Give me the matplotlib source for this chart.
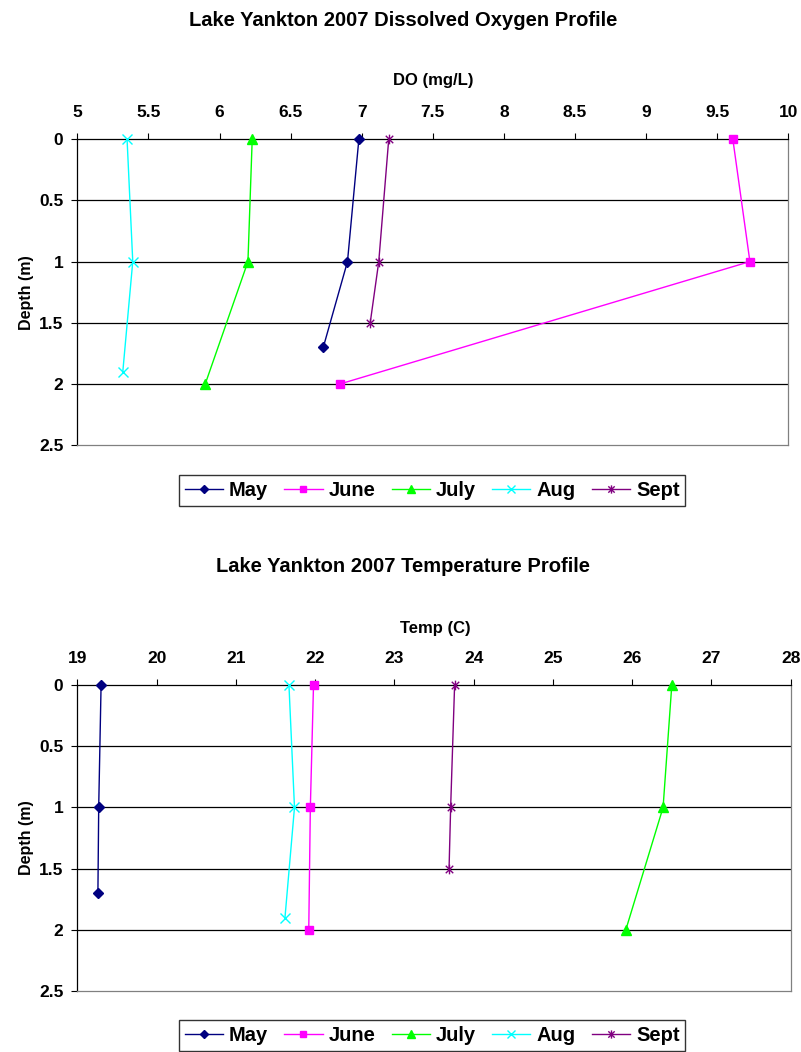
import numpy as np
import matplotlib.pyplot as plt
from matplotlib.path import Path
from matplotlib.ticker import FuncFormatter

plt.rcParams['font.family'] = ['Liberation Sans', 'DejaVu Sans']
plt.rcParams['font.weight'] = 'bold'

W, H = 801, 1052

months = ["May", "June", "July", "Aug", "Sept"]
colors = ["#000080", "#FF00FF", "#00FF00", "#00FFFF", "#800080"]

# sampling depths (m) for each month
may_depth = [0, 1, 1.7]
june_depth = [0, 1, 2]
july_depth = [0, 1, 2]
aug_depth = [0, 1, 1.9]
sept_depth = [0, 1, 1.5]

# dissolved oxygen (mg/L)
may_do = [6.98, 6.90, 6.73]
june_do = [9.61, 9.73, 6.85]
july_do = [6.23, 6.20, 5.90]
aug_do = [5.35, 5.39, 5.32]
sept_do = [7.19, 7.12, 7.06]

# temperature (C)
may_temp = [19.30, 19.27, 19.26]
june_temp = [21.98, 21.94, 21.92]
july_temp = [26.50, 26.39, 25.92]
aug_temp = [21.67, 21.74, 21.62]
sept_temp = [23.76, 23.71, 23.69]

depths = [may_depth, june_depth, july_depth, aug_depth, sept_depth]

# excel style star: an x with a vertical bar through it
star = Path([(-1, -1), (1, 1), (-1, 1), (1, -1), (0, -1.3), (0, 1.3)],
            [Path.MOVETO, Path.LINETO, Path.MOVETO, Path.LINETO, Path.MOVETO, Path.LINETO])
markers = [("D", 5), ("s", 5.5), ("^", 6.5), ("x", 6.5), (star, 7)]


def px(x, y):
    return x / W, 1 - y / H


def draw_profile(rect, values, xlim, xticks, title, xlabel, title_y, xlabel_y, xlabel_x, legend_y):
    left, top, right, bottom = rect
    ax = fig.add_axes([left / W, 1 - bottom / H, (right - left) / W, (bottom - top) / H])

    for vals, dep, col, (mk, ms), name in zip(values, depths, colors, markers, months):
        ax.plot(vals, dep, color=col, marker=mk, markersize=ms, markerfacecolor=col,
                markeredgecolor=col, markeredgewidth=1.0, linewidth=1.0, label=name,
                clip_on=False, zorder=3)

    ax.set_xlim(*xlim)
    ax.set_ylim(2.5, 0)
    ax.set_xticks(xticks)
    ax.set_yticks(np.arange(0, 2.51, 0.5))
    ax.xaxis.set_major_formatter(FuncFormatter(lambda v, p: "%g" % v))
    ax.yaxis.set_major_formatter(FuncFormatter(lambda v, p: "%g" % v))
    ax.xaxis.tick_top()
    ax.tick_params(axis="both", direction="out", length=4, width=0.8, labelsize=12.5, color="black")
    ax.tick_params(axis="x", pad=10)
    ax.tick_params(axis="y", pad=6)

    for yv in [0.5, 1.0, 1.5, 2.0]:
        ax.axhline(yv, color="black", linewidth=0.9, zorder=1)

    ax.spines["top"].set_color("black")
    ax.spines["left"].set_color("black")
    ax.spines["right"].set_color("#808080")
    ax.spines["bottom"].set_color("#808080")
    for s in ax.spines.values():
        s.set_linewidth(0.9)

    fig.text(*px(403, title_y), title, ha="center", va="center", fontsize=14.5, fontweight="bold")
    fig.text(*px(xlabel_x, xlabel_y), xlabel, ha="center", va="center", fontsize=12, fontweight="bold")
    fig.text(*px(27, (top + bottom) / 2), "Depth (m)", ha="center", va="center",
             rotation=90, fontsize=11.5, fontweight="bold")

    leg = fig.legend(*ax.get_legend_handles_labels(), loc="upper center",
                     bbox_to_anchor=px(432, legend_y), ncol=5, frameon=True, fancybox=False,
                     edgecolor="black", prop={"size": 14.5, "weight": "bold"},
                     handlelength=1.9, handletextpad=0.3, columnspacing=0.8,
                     borderpad=0.3, borderaxespad=0, markerscale=0.85)
    leg.get_frame().set_linewidth(1.0)
    return ax


fig = plt.figure(figsize=(W / 100, H / 100), dpi=100)

draw_profile((77.3, 139.3, 788.3, 445), [may_do, june_do, july_do, aug_do, sept_do],
             (5, 10), np.arange(5, 10.01, 0.5),
             "Lake Yankton 2007 Dissolved Oxygen Profile", "DO (mg/L)",
             title_y=21, xlabel_y=81, xlabel_x=433, legend_y=475)

draw_profile((77.3, 685, 790.7, 991), [may_temp, june_temp, july_temp, aug_temp, sept_temp],
             (19, 28), np.arange(19, 28.01, 1),
             "Lake Yankton 2007 Temperature Profile", "Temp (C)",
             title_y=567, xlabel_y=629, xlabel_x=435, legend_y=1020)

fig.savefig("out.png", dpi=100)
